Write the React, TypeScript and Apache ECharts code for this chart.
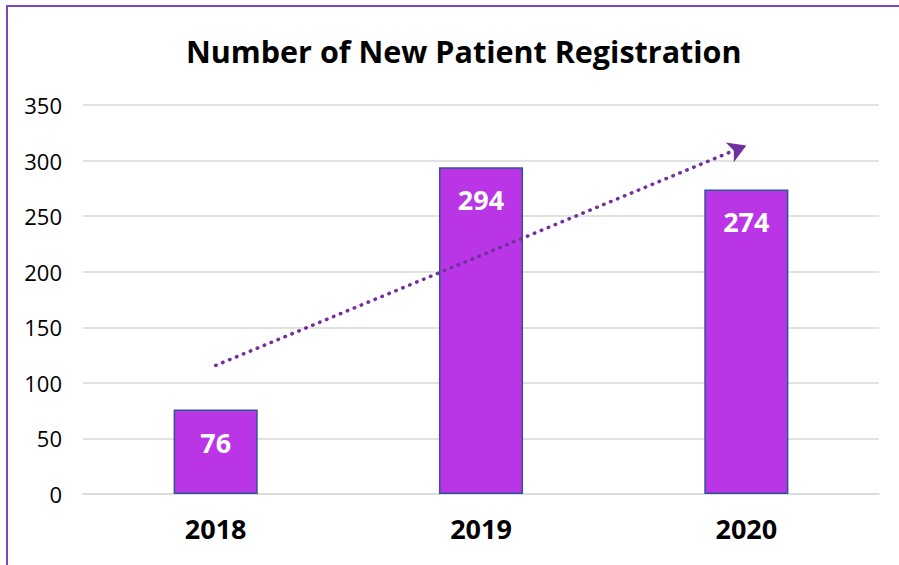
import React, { useEffect, useRef } from "react";
import * as echarts from "echarts";

const categories = ["2018", "2019", "2020"];
const registrations = [76, 294, 274];
const yTicks = { min: 0, max: 350, interval: 50 };

// least-squares linear trendline computed from the bar values
function trend(values: number[]): [number, number] {
  const n = values.length;
  const xs = values.map((_, i) => i);
  const mx = xs.reduce((a, b) => a + b, 0) / n;
  const my = values.reduce((a, b) => a + b, 0) / n;
  let num = 0, den = 0;
  xs.forEach((x, i) => { num += (x - mx) * (values[i] - my); den += (x - mx) * (x - mx); });
  const slope = num / den;
  const b = my - slope * mx;
  return [b, b + slope * (n - 1)];
}

const FONT = "'Open Sans', sans-serif";

export default function App() {
  const ref = useRef<HTMLDivElement>(null);
  useEffect(() => {
    document.body.style.margin = "0";
    const chart = echarts.init(ref.current!, null, { renderer: "svg" });
    const [t0, t1] = trend(registrations);
    chart.setOption({
      animation: false,
      backgroundColor: "#ffffff",
      title: {
        text: "Number of New Patient Registration",
        left: 181,
        top: 30,
        textStyle: { fontFamily: FONT, fontSize: 30.5, fontWeight: "bold", color: "#000" },
      },
      graphic: [
        {
          type: "rect",
          shape: { x: 7, y: 6, width: 900, height: 580 },
          style: { fill: "none", stroke: "#7E45C2", lineWidth: 2 },
          silent: true,
        },
      ],
      grid: { left: 83, right: 20, top: 105, bottom: 71 },
      xAxis: {
        type: "category",
        data: categories,
        axisLine: { lineStyle: { color: "#D9D9D9", width: 1.5 } },
        axisTick: { show: false },
        axisLabel: { fontFamily: FONT, fontSize: 27, fontWeight: "bold", color: "#000", margin: 21 },
      },
      yAxis: {
        type: "value",
        min: yTicks.min,
        max: yTicks.max,
        interval: yTicks.interval,
        axisLine: { show: false },
        axisTick: { show: false },
        splitLine: { lineStyle: { color: "#D9D9D9", width: 1.5 } },
        axisLabel: { fontFamily: FONT, fontSize: 22, color: "#000", margin: 21 },
      },
      series: [
        {
          type: "bar",
          data: registrations,
          barWidth: "31.7%",
          itemStyle: { color: "#B935E6", borderColor: "#2F5597", borderWidth: 1.5 },
          label: {
            show: true,
            position: "insideTop",
            distance: 19,
            fontFamily: FONT,
            fontSize: 27,
            fontWeight: "bold",
            color: "#fff",
          },
          markLine: {
            silent: true,
            symbol: ["none", "arrow"],
            symbolSize: [16, 18],
            label: { show: false },
            lineStyle: { color: "#7030A0", type: [0.5, 7], width: 3.5, cap: "round" },
            data: [[{ coord: [categories[0], t0] }, { coord: [categories[categories.length - 1], t1] }]],
          },
        },
      ],
    });
    return () => chart.dispose();
  }, []);
  return <div ref={ref} style={{ width: 899, height: 565 }} />;
}
